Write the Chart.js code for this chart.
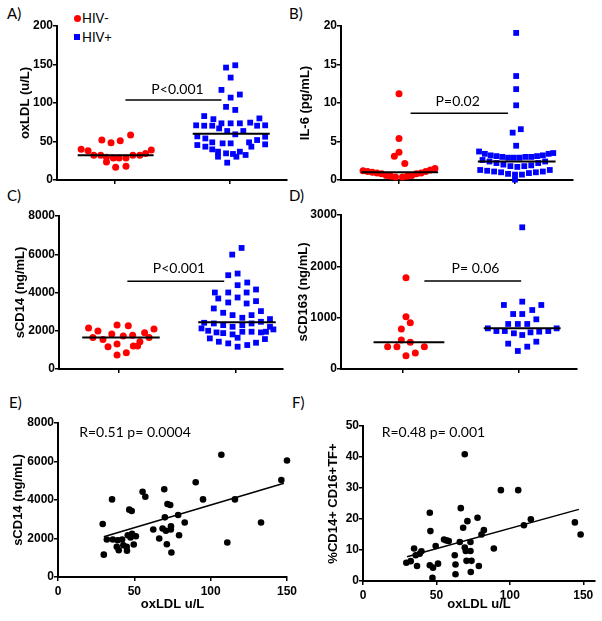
<!DOCTYPE html>
<html><head><meta charset="utf-8">
<script src="https://cdn.jsdelivr.net/npm/chart.js@4.4.0/dist/chart.umd.min.js"></script>
<style>
html,body{margin:0;padding:0;background:#fff;}
body{width:602px;height:621px;position:relative;overflow:hidden;}
.plab{position:absolute;font-family:Lato,"Open Sans",sans-serif;font-size:15px;line-height:15px;color:#000;white-space:nowrap;}
.leg{position:absolute;font-family:Lato,"Open Sans",sans-serif;font-size:13px;line-height:13px;color:#000;white-space:nowrap;}
.mk{position:absolute;}
</style></head><body>
<div class="plab" style="left:7px;top:6px">A)</div>
<div class="plab" style="left:289px;top:6px">B)</div>
<div class="plab" style="left:7px;top:188px">C)</div>
<div class="plab" style="left:289px;top:188px">D)</div>
<div class="plab" style="left:9px;top:395px">E)</div>
<div class="plab" style="left:292px;top:395px">F)</div>
<div class="mk" style="left:73.5px;top:14.8px;width:7px;height:7px;border-radius:50%;background:#ff0000"></div>
<div class="leg" style="left:82px;top:11.5px">HIV-</div>
<div class="mk" style="left:74px;top:34.3px;width:6px;height:6px;background:#0000ff"></div>
<div class="leg" style="left:82px;top:30.5px">HIV+</div>
<script>
// ---------- data ----------
const groups = ["HIV-", "HIV+"];
const catTicks = [1, 2];

// A) oxLDL (u/L)
const aNegX = [0.71,0.77,0.89,0.97,1.05,1.14,1.32,1.27,0.82,0.88,0.93,0.99,1.04,1.10,1.16,1.22,0.93,1.01,1.10];
const aNegY = [40,38,52,48.5,51,58.5,39,34.5,32,32,29.5,28.5,28.5,28.5,32,32,23.5,16.5,18];
const aPosX = [2.05,1.97,2.01,1.93,2.09,2.01,1.97,2.05,1.78,1.86,2.26,1.71,1.78,1.85,1.93,2.01,2.09,2.18,2.24,2.31,1.91,1.98,2.05,2.12,1.72,1.79,1.85,1.94,2.01,2.17,2.24,2.31,1.72,1.79,1.85,1.90,1.97,2.03,2.09,2.14,2.19,2.31,1.90,2.06,1.98];
const aPosY = [149,146,133,117,111,107,95,91,83,79,80,71,70.5,70.5,73.6,73.6,73.6,74.5,70.5,71,67,63.6,59.3,63.6,56.7,54,48.9,47.6,47.6,48.9,51.9,56.2,45.4,43.3,39.8,36.8,34.6,33.8,36.8,32.5,43.3,46.3,30.3,30.3,22.5];
const aMedians = [32, 60];
const aPLevel = 104;
const aYTicks = [0,50,100,150,200];

// B) IL-6 (pg/mL)
const bNegX = [1.00,1.00,1.00,0.96,1.05,0.69,0.73,0.77,0.81,0.85,0.89,0.93,0.97,1.03,1.07,1.11,1.15,1.19,1.23,1.27,1.31];
const bNegY = [11.2,5.4,3.6,3.1,2.15,1.2,1.1,1.0,0.9,0.8,0.6,0.5,0.4,0.4,0.5,0.6,0.8,0.9,1.1,1.3,1.5];
const bPosX = [2.01,2.01,2.01,2.01,2.05,1.98,2.01,1.69,1.74,1.79,1.84,1.89,1.94,1.99,2.04,2.09,2.14,2.19,2.24,2.29,2.33,1.72,1.78,1.84,1.90,1.96,2.02,2.08,2.14,2.20,2.26,1.70,1.76,1.82,1.88,1.94,2.00,2.06,2.12,2.18,2.24,2.30,2.00];
const bPosY = [19.1,13.5,11.8,9.7,6.6,6.15,4.45,3.7,3.4,3.2,3.1,3.0,2.9,2.9,2.9,3.0,3.0,3.1,3.2,3.4,3.5,2.6,2.4,2.2,2.0,1.8,1.7,1.8,1.9,2.2,2.4,1.3,1.2,1.1,1.0,0.8,0.7,0.7,0.9,1.0,1.1,1.3,0.05];
const bMedians = [1.0, 2.4];
const bPLevel = 8.66;
const bYTicks = [0,5,10,15,20];

// C) sCD14 (ng/mL)
const cNegX = [0.742,0.822,0.779,0.865,0.94,0.985,1.081,1.038,1.118,0.908,0.985,1.124,1.16,1.18,1.22,1.258,1.30,0.985,1.064];
const cNegY = [2140,1983,1653,1549,1826,2296,2261,1722,1770,1164,1305,1200,1200,1426,1896,1653,2087,730,852];
const cPosX = [2.047,1.967,1.933,2.013,2.013,2.095,1.819,1.933,2.09,2.17,1.848,2.013,1.933,2.09,2.17,1.81,1.89,1.97,2.053,2.132,2.212,2.289,1.728,1.81,1.89,1.97,2.053,2.132,2.212,2.289,1.705,1.762,1.833,1.89,1.97,2.053,2.132,2.212,2.255,2.318,1.776,1.853,1.933,2.013,2.013,2.095,2.17,2.246];
const cPosY = [6330,5982,4904,4991,4382,4521,4000,4000,4000,4156,3687,3739,3478,3426,3548,3165,2939,2817,2678,2817,3026,2608,2417,2382,2296,2209,2296,2382,2469,2209,2122,2000,1913,1878,1809,1948,1948,1913,1948,2070,1600,1426,1339,1635,1165,1252,1374,1565];
const cMedians = [1650, 2440];
const cPLevel = 4590;
const cYTicks = [0,2000,4000,6000,8000];

// D) sCD163 (ng/mL)
const dNegX = [1.029,1.029,1.066,0.989,0.989,1.066,0.871,0.951,1.187,1.029,1.109];
const dNegY = [1779,1020,903,779,565,520,435,435,435,260,312];
const dPosX = [2.029,1.871,2.029,2.193,1.951,2.029,2.115,2.15,1.733,1.807,1.879,1.908,1.991,2.072,1.957,2.029,2.1,2.175,2.253,2.325,1.908,2.072,2.15,1.991];
const dPosY = [2760,1247,1312,1247,1071,1071,1149,968,792,740,740,877,877,877,695,662,714,727,740,792,494,435,532,351];
const dMedians = [520, 795];
const dPLevel = 1714;
const dYTicks = [0,1000,2000,3000];

// E) sCD14 vs oxLDL
const eX = [29.3,30,32,35.4,35.9,38.5,39.1,39.8,42,42.8,45,45.2,45.7,46.7,48.3,47.5,49.6,51,48.5,55.4,57.2,62.4,66.3,69.6,70,68.5,70.7,71.3,71.7,73.5,73.9,74,74.3,78.7,79.3,83,90.2,95,107,110.9,115.9,133,146.3,150];
const eY = [2750,1160,1950,4030,1950,1570,1910,1390,1950,1650,1570,1360,2170,3500,3430,2050,1690,2120,2250,4430,4170,2470,2000,4560,3100,2520,2400,1700,3790,3740,2470,2640,1270,3220,2170,2830,4920,4030,6350,1790,4030,2830,5040,6050];
const eFitX = [30, 148];
const eFitY = [2090, 4870];
const eXTicks = [0,50,100,150];
const eYTicks = [0,2000,4000,6000,8000];

// F) %CD14+ CD16+TF+ vs oxLDL
const fX = [29.5,32.5,34.8,35.9,36.8,38.6,39.8,45.5,45.9,45.5,47.7,47.3,49.5,51.1,55.2,56.8,58.4,62.5,63,63,65.9,66.6,68.2,69.3,69.3,70,70.5,71.1,73.2,73.2,73.4,73.9,78,78.9,80.7,82.3,89.1,93.9,105.7,109.6,114.3,144.3,148.2];
const fY = [5.9,6.4,10.5,8.3,4.85,8.8,9.6,22,16.1,5.1,4.3,1,11.3,5.6,13.4,13.1,12.9,8.3,5.3,2.2,12.6,23.5,17.2,40.9,10.8,9.7,6.5,19.3,12.6,9.7,2.9,6.5,20.4,4.85,15,16.4,10.5,29.3,29.3,18,19.9,18.9,15];
const fFitX = [30, 147];
const fFitY = [7.8, 23.1];
const fXTicks = [0,50,100,150];
const fYTicks = [0,10,20,30,40,50];

// ---------- drawing ----------
Chart.defaults.font.family = "'Liberation Sans', Arial, sans-serif";
Chart.defaults.color = '#000';

const RED = '#ff0000', BLUE = '#0000ff';
const TICK_FONT = {size: 12, weight: 'bold'};
const TITLE_FONT = {size: 13, weight: 'bold'};
const NOTE_FONT = "14px Lato, 'Open Sans', sans-serif";

const notesPlugin = {
  id: 'notes',
  afterDatasetsDraw(chart, args, opts) {
    const {ctx} = chart;
    const xs = chart.scales.x, ys = chart.scales.y;
    (opts.items || []).forEach(it => {
      ctx.save();
      ctx.font = NOTE_FONT;
      ctx.fillStyle = '#000';
      ctx.textAlign = it.align || 'center';
      ctx.textBaseline = 'alphabetic';
      ctx.fillText(it.text, xs.getPixelForValue(it.x), ys.getPixelForValue(it.y));
      ctx.restore();
    });
  }
};

function pts(xs, ys) { return xs.map((x, i) => ({x: x, y: ys[i]})); }
function lineSet(xs, ys, w) {
  return {data: pts(xs, ys), showLine: true, borderColor: '#000', borderWidth: w,
          pointRadius: 0, backgroundColor: '#000', clip: false};
}
function markSet(xs, ys, color, style, r) {
  return {data: pts(xs, ys), showLine: false, backgroundColor: color, borderColor: color,
          borderWidth: 0, pointStyle: style, pointRadius: r, clip: false};
}
function groupSets(negX, negY, posX, posY, meds, spans, pLevel, pSpan) {
  return [
    lineSet(spans[0], [meds[0], meds[0]], 2),
    lineSet(spans[1], [meds[1], meds[1]], 2),
    lineSet(pSpan, [pLevel, pLevel], 1.5),
    markSet(negX, negY, RED, 'circle', 3.5),
    markSet(posX, posY, BLUE, 'rect', 4.1)
  ];
}

function panel(c) {
  const cv = document.createElement('canvas');
  cv.width = c.w; cv.height = c.h;
  cv.style.cssText = 'position:absolute;left:' + c.left + 'px;top:' + c.top + 'px;width:' + c.w + 'px;height:' + c.h + 'px';
  document.body.appendChild(cv);
  const gridOpt = {display: true, drawOnChartArea: false, drawTicks: true, tickLength: 4, color: '#000', lineWidth: 1.5};
  new Chart(cv, {
    type: 'scatter',
    data: {datasets: c.datasets},
    options: {
      responsive: false, animation: false, devicePixelRatio: 1,
      layout: {padding: c.pad},
      plugins: {legend: {display: false}, tooltip: {enabled: false}, notes: {items: c.notes}},
      scales: {
        x: {
          type: 'linear', min: c.xr[0], max: c.xr[1],
          afterFit: s => { s.height = c.xh; },
          afterBuildTicks: s => { s.ticks = c.xTicks.map(v => ({value: v})); },
          grid: gridOpt,
          border: {display: true, color: '#000', width: 2},
          ticks: {font: TICK_FONT, color: '#000', padding: 3, maxRotation: 0, autoSkip: false,
                  callback: v => c.xLabels ? String(v) : ''},
          title: c.xTitle ? {display: true, text: c.xTitle, font: TITLE_FONT, color: '#000',
                  padding: {top: 0, bottom: c.xTitlePad}} : {display: false}
        },
        y: {
          type: 'linear', min: c.yr[0], max: c.yr[1],
          afterFit: s => { s.width = c.yw; },
          afterBuildTicks: s => { s.ticks = c.yTicks.map(v => ({value: v})); },
          grid: gridOpt,
          border: {display: true, color: '#000', width: 2},
          ticks: {font: TICK_FONT, color: '#000', padding: 0, autoSkip: false, callback: v => String(v)},
          title: {display: true, text: c.yTitle, font: TITLE_FONT, color: '#000',
                  padding: {top: c.yTitlePad, bottom: 0}}
        }
      }
    },
    plugins: [notesPlugin]
  });
}

panel({left: 0, top: 0, w: 300, h: 200, pad: {left: 0, top: 26, right: 13, bottom: 0},
  yw: 57, xh: 20, xr: [0.5, 2.5], yr: [0, 200], xTicks: catTicks, yTicks: aYTicks, xLabels: false,
  yTitle: 'oxLDL (u/L)', yTitlePad: 18,
  datasets: groupSets(aNegX, aNegY, aPosX, aPosY, aMedians, [[0.68, 1.34], [1.68, 2.35]], aPLevel, [1.095, 1.93]),
  notes: [{text: 'P<0.001', x: 1.548, y: 112}]});

panel({left: 296, top: 0, w: 306, h: 200, pad: {left: 0, top: 26, right: 29, bottom: 0},
  yw: 45, xh: 20, xr: [0.5, 2.5], yr: [0, 20], xTicks: catTicks, yTicks: bYTicks, xLabels: false,
  yTitle: 'IL-6 (pg/mL)', yTitlePad: 2,
  datasets: groupSets(bNegX, bNegY, bPosX, bPosY, bMedians, [[0.674, 1.337], [1.68, 2.35]], bPLevel, [1.1, 1.94]),
  notes: [{text: 'P=0.02', x: 1.506, y: 9.6}]});

panel({left: 0, top: 190, w: 300, h: 200, pad: {left: 0, top: 26, right: 17, bottom: 0},
  yw: 59, xh: 21, xr: [0.49, 2.40], yr: [0, 8000], xTicks: catTicks, yTicks: cYTicks, xLabels: false,
  yTitle: 'sCD14 (ng/mL)', yTitlePad: 13,
  datasets: groupSets(cNegX, cNegY, cPosX, cPosY, cMedians, [[0.688, 1.349], [1.677, 2.338]], cPLevel, [1.073, 1.899]),
  notes: [{text: 'P<0.001', x: 1.513, y: 4995}]});

panel({left: 296, top: 190, w: 306, h: 200, pad: {left: 0, top: 25, right: 25, bottom: 0},
  yw: 45, xh: 21, xr: [0.47, 2.5], yr: [0, 3000], xTicks: catTicks, yTicks: dYTicks, xLabels: false,
  yTitle: 'sCD163 (ng/mL)', yTitlePad: 0,
  datasets: groupSets(dNegX, dNegY, dPosX, dPosY, dMedians, [[0.75, 1.359], [1.698, 2.359]], dPLevel, [1.187, 2.02]),
  notes: [{text: 'P= 0.06', x: 1.627, y: 1864}]});

panel({left: 0, top: 395, w: 300, h: 226, pad: {left: 0, top: 28, right: 12, bottom: 0},
  yw: 58, xh: 44, xr: [0, 150], yr: [0, 8000], xTicks: eXTicks, yTicks: eYTicks, xLabels: true,
  xTitle: 'oxLDL u/L', xTitlePad: 9,
  yTitle: 'sCD14 (ng/mL)', yTitlePad: 11,
  datasets: [lineSet(eFitX, eFitY, 1.5), markSet(eX, eY, '#000', 'circle', 3.3)],
  notes: [{text: 'R=0.51 p= 0.0004', x: 13.9, y: 7288, align: 'left'}]});

panel({left: 296, top: 395, w: 306, h: 226, pad: {left: 0, top: 31, right: 7, bottom: 0},
  yw: 67, xh: 40, xr: [0, 158], yr: [0, 50], xTicks: fXTicks, yTicks: fYTicks, xLabels: true,
  xTitle: 'oxLDL u/L', xTitlePad: 9,
  yTitle: '%CD14+ CD16+TF+', yTitlePad: 30,
  datasets: [lineSet(fFitX, fFitY, 1.5), markSet(fX, fY, '#000', 'circle', 3.3)],
  notes: [{text: 'R=0.48 p= 0.001', x: 12.7, y: 46.4, align: 'left'}]});
</script>
</body></html>
